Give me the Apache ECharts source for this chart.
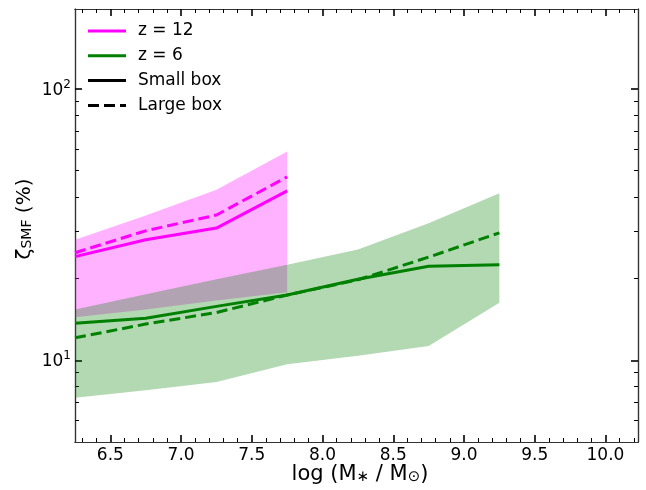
<!DOCTYPE html>
<html>
<head>
<meta charset="utf-8">
<script src="https://cdn.jsdelivr.net/npm/echarts@6/dist/echarts.min.js"></script>
<style>html,body{margin:0;padding:0;background:#fff}#c{width:646px;height:490px}</style>
</head>
<body>
<div id="c"></div>
<script>
// ---- data ----
const xs = [6.25, 6.75, 7.25, 7.75, 8.25, 8.75, 9.25];
const z12Small = [24.1, 27.8, 30.7, 42.1];
const z12Large = [24.9, 30.0, 34.3, 47.4];
const z12Upper = [27.8, 34.2, 42.5, 58.8];
const z12Lower = [14.4, 15.4, 16.6, 17.8];
const z6Small = [13.7, 14.3, 15.8, 17.4, 19.9, 22.2, 22.5];
const z6Large = [12.1, 13.6, 15.0, 17.4, 19.8, 24.0, 29.5];
const z6Upper = [15.4, 17.5, 19.9, 22.5, 25.6, 32.0, 41.3];
const z6Lower = [7.28, 7.75, 8.31, 9.67, 10.4, 11.3, 16.3];
const xMajor = [6.5, 7.0, 7.5, 8.0, 8.5, 9.0, 9.5, 10.0];
const xTickLabels = ['6.5', '7.0', '7.5', '8.0', '8.5', '9.0', '9.5', '10.0'];
const xMinor = [6.3, 6.4, 6.6, 6.7, 6.8, 6.9, 7.1, 7.2, 7.3, 7.4, 7.6, 7.7, 7.8, 7.9, 8.1, 8.2, 8.3, 8.4, 8.6, 8.7, 8.8, 8.9, 9.1, 9.2, 9.3, 9.4, 9.6, 9.7, 9.8, 9.9, 10.1, 10.2];
const yMajor = [10, 100];
const yTickExp = ['1', '2'];
const yMinor = [6, 7, 8, 9, 20, 30, 40, 50, 60, 70, 80, 90];
const legendNames = ['z = 12', 'z = 6', 'Small box', 'Large box'];

const MAG = '#ff00ff', GRN = '#008000';
const FONT = 'DejaVu Sans';
const X_MIN = 6.25, X_MAX = 10.23, Y_MIN = 5, Y_MAX = 197;
const DASH_ICON = 'path://M0,0h11v3h-11z M16,0h11v3h-11z M32,0h6v3h-6z';

function pairs(x, y) { return y.map((v, i) => [x[i], v]); }

function bandSeries(upper, lower, fill) {
  const n = upper.length;
  return {
    type: 'custom', coordinateSystem: 'cartesian2d', silent: true, z: 1,
    data: [[xs[0], lower[0]]],
    renderItem: function (params, api) {
      const pts = [];
      for (let i = 0; i < n; i++) pts.push(api.coord([xs[i], upper[i]]));
      for (let i = n - 1; i >= 0; i--) pts.push(api.coord([xs[i], lower[i]]));
      return { type: 'polygon', shape: { points: pts }, style: { fill: fill, stroke: null } };
    }
  };
}

function xAx(pos, ticks, len, w, labels) {
  return {
    type: 'value', min: X_MIN, max: X_MAX, position: pos,
    axisLine: { show: true, onZero: false, lineStyle: { color: '#333', width: 1.2 } },
    axisTick: { show: true, inside: true, length: len, customValues: ticks, lineStyle: { color: '#000', width: w } },
    axisLabel: labels ? {
      show: true, customValues: xMajor, margin: 5, color: '#000', fontFamily: FONT, fontSize: 17,
      formatter: v => { const k = xMajor.findIndex(m => Math.abs(m - v) < 1e-6); return k >= 0 ? xTickLabels[k] : ''; }
    } : { show: false },
    splitLine: { show: false }
  };
}
function yAx(pos, ticks, len, w, labels) {
  return {
    type: 'log', logBase: 10, min: Y_MIN, max: Y_MAX, position: pos,
    axisLine: { show: true, onZero: false, lineStyle: { color: '#333', width: 1.2 } },
    axisTick: { show: true, inside: true, length: len, customValues: ticks, lineStyle: { color: '#000', width: w } },
    axisLabel: labels ? {
      show: true, customValues: yMajor, margin: 4, color: '#000',
      formatter: v => { const k = yMajor.findIndex(m => Math.abs(m - v) < 1e-6); return k >= 0 ? '{b|10}{s|' + yTickExp[k] + '}' : ''; },
      rich: {
        b: { fontFamily: FONT, fontSize: 17, color: '#000', verticalAlign: 'bottom' },
        s: { fontFamily: FONT, fontSize: 12, color: '#000', verticalAlign: 'bottom', padding: [0, 0, 8, 0] }
      }
    } : { show: false },
    splitLine: { show: false }, minorTick: { show: false }
  };
}

function lineSeries(name, data, color, dashed) {
  return {
    type: 'line', name: name, data: data, symbol: 'none', z: 3,
    xAxisIndex: 0, yAxisIndex: 0,
    lineStyle: { color: color, width: 3, type: dashed ? [11, 5] : 'solid', cap: 'butt' },
    itemStyle: { color: color },
    emphasis: { disabled: true }
  };
}

const chart = echarts.init(document.getElementById('c'), null, { renderer: 'canvas' });
chart.setOption({
  animation: false,
  backgroundColor: '#fff',
  grid: { left: 75, right: 8, top: 9, bottom: 48, containLabel: false },
  xAxis: [
    xAx('bottom', xMajor, 7, 1.6, true),
    xAx('bottom', xMinor, 4, 1, false),
    xAx('top', xMajor, 7, 1.6, false),
    xAx('top', xMinor, 4, 1, false)
  ],
  yAxis: [
    yAx('left', yMajor, 7, 1.6, true),
    yAx('left', yMinor, 4, 1, false),
    yAx('right', yMajor, 7, 1.6, false),
    yAx('right', yMinor, 4, 1, false)
  ],
  legend: {
    orient: 'vertical', left: 88, top: 21, padding: 0,
    itemWidth: 38, itemHeight: 3, itemGap: 4.8,
    data: [
      { name: legendNames[0], icon: 'rect' },
      { name: legendNames[1], icon: 'rect' },
      { name: legendNames[2], icon: 'rect' },
      { name: legendNames[3], icon: DASH_ICON }
    ],
    selectedMode: false,
    textStyle: { fontFamily: FONT, fontSize: 17, color: '#000', lineHeight: 20, padding: [0, 0, 0, 7] }
  },
  series: [
    bandSeries(z12Upper, z12Lower, 'rgba(255,0,255,0.3)'),
    bandSeries(z6Upper, z6Lower, 'rgba(0,128,0,0.3)'),
    lineSeries('z = 12', pairs(xs, z12Small), MAG, false),
    lineSeries('z12 large', pairs(xs, z12Large), MAG, true),
    lineSeries('z = 6', pairs(xs, z6Small), GRN, false),
    lineSeries('z6 large', pairs(xs, z6Large), GRN, true),
    lineSeries('Small box', [], '#000', false),
    lineSeries('Large box', [], '#000', true)
  ],
  graphic: [
    {
      type: 'text', x: 27, y: 219, rotation: Math.PI / 2, silent: true,
      style: {
        text: '{a|ζ}{s|SMF}{a| (%)}', align: 'center', verticalAlign: 'middle',
        rich: {
          a: { fontFamily: FONT, fontSize: 20, fill: '#000', padding: [0, 0, 5, 0] },
          s: { fontFamily: FONT, fontSize: 14, fill: '#000' }
        }
      }
    },
    {
      type: 'text', x: 360, y: 477, silent: true,
      style: {
        text: '{a|log (M}{s|∗}{a| / M}{s|⊙}{a|)}', align: 'center', verticalAlign: 'middle',
        rich: {
          a: { fontFamily: FONT, fontSize: 21, fill: '#000', padding: [0, 0, 5, 0] },
          s: { fontFamily: FONT, fontSize: 15, fill: '#000' }
        }
      }
    }
  ]
});
</script>
</body>
</html>
